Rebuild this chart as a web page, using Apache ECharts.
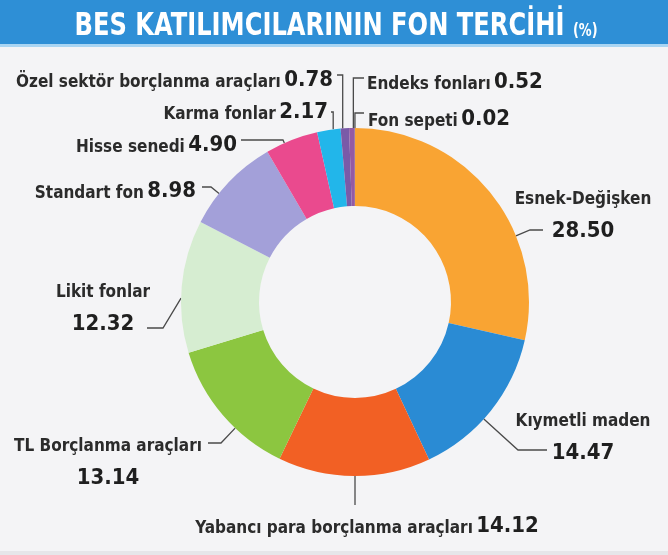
<!DOCTYPE html>
<html>
<head>
<meta charset="utf-8">
<script src="https://cdn.jsdelivr.net/npm/echarts@6/dist/echarts.min.js"></script>
<style>
html,body{margin:0;padding:0;background:#f4f4f6;}
#chart{width:668px;height:555px;}
</style>
</head>
<body>
<div id="chart"></div>
<script>
// ---- data ----
const titleText = 'BES KATILIMCILARININ FON TERCİHİ';
const titleUnit = '(%)';
const categories = [
  'Esnek-Değişken',
  'Kıymetli maden',
  'Yabancı para borçlanma araçları',
  'TL Borçlanma araçları',
  'Likit fonlar',
  'Standart fon',
  'Hisse senedi',
  'Karma fonlar',
  'Özel sektör borçlanma araçları',
  'Endeks fonları',
  'Fon sepeti'
];
const values = [28.50, 14.47, 14.12, 13.14, 12.32, 8.98, 4.90, 2.17, 0.78, 0.52, 0.02];

// ---- styles / layout ----
const colors = ['#f9a433', '#2a8bd4', '#f26024', '#8cc640', '#d6edd1', '#a3a0d9',
                '#ea4a8e', '#22b6ea', '#7a5aa8', '#945aa4', '#8a8a8a'];
const FONT = '"DejaVu Sans Condensed","Liberation Sans Narrow",sans-serif';
const CX = 355, CY = 302, R_IN = 96, R_OUT = 174;

const labelSpots = [
  {x: 583, y: 212, align: 'center', two: true, elbow: [530, 230], end: [543, 230]},
  {x: 583, y: 434, align: 'center', two: true, elbow: [518, 450], end: [547, 450]},
  {x: 367, y: 520, align: 'center', vertical: true, end: [null, 505], toward: [355, 505]},
  {x: 108, y: 459, align: 'center', two: true, elbow: [221, 443], end: [208, 443]},
  {x: 103, y: 305, align: 'center', two: true, elbow: [163, 328], end: [147, 328], toward: [176, 298]},
  {x: 196, y: 185, align: 'right', elbow: [211, 187], end: [202, 187]},
  {x: 237, y: 139, align: 'right', elbow: [283, 140], end: [241, 140]},
  {x: 328, y: 106, align: 'right', vertical: true, end: [331, 112]},
  {x: 333, y: 74, align: 'right', vertical: true, end: [337, 75]},
  {x: 367, y: 76, align: 'left', vertical: true, end: [364, 78]},
  {x: 368, y: 113, align: 'left', vertical: true, end: [364, 113]}
];

function edgePoint(i, t) {
  const total = values.reduce((a, b) => a + b, 0);
  let start = 0;
  for (let k = 0; k < i; k++) start += values[k] / total * 360;
  const span = values[i] / total * 360, end = start + span, mid = start + span / 2;
  let a = Math.atan2(t[0] - CX, -(t[1] - CY)) * 180 / Math.PI;
  a = (((a - mid) % 360) + 540) % 360 - 180 + mid;
  const m = Math.min(2, span * 0.25);
  a = Math.max(start + m, Math.min(end - m, a));
  const r = a * Math.PI / 180;
  return [CX + R_OUT * Math.sin(r), CY - R_OUT * Math.cos(r)];
}

// title scale to match condensed headline
const cv = document.createElement('canvas').getContext('2d');
cv.font = 'bold 32px ' + FONT;
const wMain = cv.measureText(titleText + ' ').width;
cv.font = 'bold 17px ' + FONT;
const wUnit = cv.measureText(titleUnit).width;
const titleScale = 523 / (wMain + wUnit);

const chart = echarts.init(document.getElementById('chart'), null, {renderer: 'canvas'});
const option = {
  backgroundColor: '#f4f4f6',
  animation: false,
  graphic: [
    {type: 'rect', silent: true, z: 0, shape: {x: 0, y: 0, width: 668, height: 44}, style: {fill: '#2e8fd6'}},
    {type: 'rect', silent: true, z: 0, shape: {x: 0, y: 44, width: 668, height: 3}, style: {fill: '#a9d5f3'}},
    {type: 'rect', silent: true, z: 0, shape: {x: 0, y: 551, width: 668, height: 4}, style: {fill: '#e6e6e9'}},
    {
      type: 'text', silent: true, z: 10, x: 336, y: 25, scaleX: titleScale,
      style: {
        text: '{a|' + titleText + ' }{b|' + titleUnit + '}',
        align: 'center', verticalAlign: 'middle',
        rich: {
          a: {fontFamily: FONT, fontWeight: 'bold', fontSize: 32, fill: '#ffffff', lineHeight: 36, verticalAlign: 'bottom'},
          b: {fontFamily: FONT, fontWeight: 'bold', fontSize: 17, fill: '#ffffff', lineHeight: 36, verticalAlign: 'bottom', padding: [0, 0, 3, 0]}
        }
      }
    }
  ],
  series: [{
    type: 'pie',
    center: [CX, CY],
    radius: [R_IN, R_OUT],
    startAngle: 90,
    clockwise: true,
    avoidLabelOverlap: false,
    silent: true,
    itemStyle: {borderWidth: 0},
    data: categories.map((c, i) => ({name: c, value: values[i], itemStyle: {color: colors[i]}})),
    label: {
      show: true,
      position: 'outside',
      formatter: function (p) {
        const s = labelSpots[p.dataIndex];
        const v = values[p.dataIndex].toFixed(2);
        return s.two ? '{n|' + p.name + '}\n{v|' + v + '}' : '{n|' + p.name + '} {v|' + v + '}';
      },
      rich: {
        n: {fontFamily: FONT, fontSize: 17, fontWeight: 'bold', color: '#2b2b2b', lineHeight: 26, verticalAlign: 'bottom'},
        v: {fontFamily: FONT, fontSize: 22, fontWeight: 'bold', color: '#1f1f1f', lineHeight: 34, verticalAlign: 'bottom'}
      }
    },
    labelLine: {show: true, length: 10, length2: 10, smooth: false, lineStyle: {color: '#4a4a4a', width: 1.3}},
    labelLayout: function (p) {
      const s = labelSpots[p.dataIndex];
      const toward = s.toward || s.elbow || s.end;
      const edge = edgePoint(p.dataIndex, toward);
      let pts;
      if (s.vertical) {
        const end = [s.end[0] == null ? edge[0] : s.end[0], s.end[1]];
        pts = [edge, [edge[0], end[1]], end];
      } else {
        pts = [edge, s.elbow, s.end];
      }
      return {x: s.x, y: s.y, align: s.align, verticalAlign: 'middle', labelLinePoints: pts};
    }
  }]
};
chart.setOption(option);
</script>
</body>
</html>
